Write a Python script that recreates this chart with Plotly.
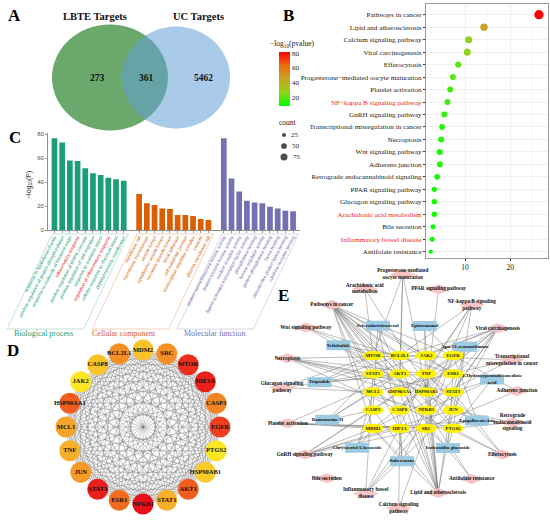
import itertools

import numpy as np
import plotly.graph_objects as go

W, H = 550, 521
SERIF = "Liberation Serif, Times New Roman, serif"
SANS = "Liberation Sans, Arial, sans-serif"
RED = "#ee1c25"

# ---------------- data ----------------
# A: Venn diagram
venn_titles = ["LBTE Targets", "UC Targets"]
venn_counts = [273, 361, 5462]  # LBTE only, shared, UC only

# B: KEGG enrichment bubble chart
kegg_terms = [
    "Pathways in cancer", "Lipid and atherosclerosis", "Calcium signaling pathway",
    "Viral carcinogenesis", "Efferocytosis", "Progesterone\u2212mediated oocyte maturation",
    "Platelet activation", "NF\u2212kappa B signaling pathway", "GnRH signaling pathway",
    "Transcriptional misregulation in cancer", "Necroptosis", "Wnt signaling pathway",
    "Adherens junction", "Retrograde endocannabinoid signaling", "PPAR signaling pathway",
    "Glucagon signaling pathway", "Arachidonic acid metabolism", "Bile secretion",
    "Inflammatory bowel disease", "Antifolate resistance",
]
kegg_x = [26.4, 14.2, 10.8, 10.5, 8.5, 7.3, 6.7, 6.1, 5.4, 4.9,
          4.7, 4.4, 4.4, 3.8, 3.2, 3.2, 3.2, 2.9, 2.7, 2.4]
kegg_count = [132, 81, 75, 75, 60, 55, 55, 55, 50, 50,
              55, 55, 55, 50, 43, 43, 43, 38, 38, 28]
kegg_logp = [82, 45, 28, 27, 20, 19, 17, 16, 14, 12,
             13, 12, 13, 11, 10, 10, 10, 9, 9, 8]
kegg_red = ["NF\u2212kappa B signaling pathway", "Arachidonic acid metabolism",
            "Inflammatory bowel disease"]
count_breaks = [25, 50, 75]
logp_breaks = [20, 40, 60, 80]

# C: GO enrichment bars
go_groups = ["Biological process", "Cellular component", "Molecular function"]
go_colors = ["#1b9e77", "#d95f02", "#7570b3"]
bp_terms = [
    "response to lipopolysaccharide", "positive regulation of protein phosphorylation",
    "response to molecule of bacterial origin", "inflammatory response",
    "positive regulation of MAPK cascade", "positive regulation of cell migration",
    "response to oxidative stress", "regulation of inflammatory response",
    "cellular response to chemical stress", "peptidyl-tyrosine modification",
]
bp_values = [76.4, 73.0, 58.0, 57.5, 51.5, 47.2, 45.8, 43.6, 42.2, 41.1]
cc_terms = [
    "membrane raft", "membrane microdomain", "vesicle lumen", "cytoplasmic vesicle lumen",
    "secretory granule lumen", "focal adhesion", "cell-substrate junction",
    "transcription regulator complex", "caveola", "plasma membrane raft",
]
cc_values = [30.0, 22.2, 20.8, 18.0, 17.5, 12.5, 12.5, 11.7, 9.2, 8.3]
mf_terms = [
    "protein serine/threonine kinase activity", "protein tyrosine kinase activity",
    "nuclear receptor activity", "ligand-activated transcription factor activity",
    "phosphatase binding", "kinase regulator activity", "protein phosphatase binding",
    "heme binding", "ubiquitin-like protein ligase binding", "cytokine receptor binding",
]
mf_values = [76.4, 43.0, 32.0, 24.4, 23.0, 22.2, 19.4, 18.0, 16.1, 15.6]
go_red = ["inflammatory response", "regulation of inflammatory response"]

# D: hub genes (clockwise from top) and their degree score
hub_genes = ["MDM2", "SRC", "MTOR", "HIF1A", "CASP3", "EGFR", "PTGS2", "HSP90AB1",
             "AKT1", "STAT1", "NFKB1", "ESR1", "STAT3", "JUN", "TNF", "MCL1",
             "HSP90AA1", "JAK2", "CASP8", "BCL2L1"]
hub_score = [12, 14.5, 18, 18.5, 15, 17.5, 10, 11.5, 16.5, 13, 19, 16, 18.5, 14,
             13, 13.5, 16.5, 10, 12, 14.5]

# E: compound-target-pathway network
net_gene_rows = [
    ["MTOR", "BCL2L1", "JAK2", "EGFR"],
    ["STAT1", "AKT1", "TNF", "ESR1"],
    ["MCL1", "HSP90AA1", "HSP90AB1", "STAT3"],
    ["CASP3", "CASP8", "NFKB1", "JUN"],
    ["MDM2", "HIF1A", "SRC", "PTGS2"],
]
net_compounds = [
    "Sclerodarisirosterol", "Epirosmanol", "Apo-13-zeaxanthinone",
    "4-Hydroxypentadecanedioic<br>acid", "Epigallocatechin", "Isofraxidin glucoside",
    "Suberenone", "Chrysoeriol 6-hexoside", "Ramonosine H", "Triptolide", "Trilobolide",
]
net_pathways = [
    "Progesterone-mediated<br>oocyte maturation", "PPAR signaling pathway",
    "NF-kappa B signaling<br>pathway", "Viral carcinogenesis",
    "Transcriptional<br>misregulation in cancer", "Adherens junction",
    "Retrograde<br>endocannabinoid<br>signaling", "Efferocytosis", "Antifolate resistance",
    "Lipid and atherosclerosis", "Calcium signaling<br>pathway",
    "Inflammatory bowel<br>disease", "Bile secretion", "GnRH signaling pathway",
    "Platelet activation", "Glucagon signaling<br>pathway", "Necroptosis",
    "Wnt signaling pathway", "Pathways in cancer", "Arachidonic acid<br>metabolism",
]
pathway_links = [
    ["AKT1", "HSP90AA1", "HSP90AB1", "MTOR"],
    ["HSP90AB1"],
    ["BCL2L1", "TNF", "NFKB1", "PTGS2", "CASP8"],
    ["JAK2", "STAT1", "STAT3", "NFKB1", "JUN", "SRC", "MDM2", "CASP3", "CASP8", "BCL2L1"],
    ["MDM2", "MCL1", "BCL2L1"],
    ["EGFR", "SRC"],
    ["PTGS2", "JUN"],
    ["PTGS2", "TNF", "STAT3", "MCL1"],
    ["NFKB1", "MTOR"],
    ["JAK2", "AKT1", "TNF", "HSP90AA1", "HSP90AB1", "STAT3", "CASP3", "CASP8",
     "NFKB1", "JUN", "SRC", "BCL2L1", "MDM2"],
    ["EGFR", "HIF1A"],
    ["TNF", "STAT1", "STAT3", "JUN", "NFKB1"],
    [],
    ["EGFR", "JUN", "SRC", "MDM2", "CASP3", "HIF1A"],
    ["AKT1", "SRC", "PTGS2", "MDM2", "HIF1A"],
    ["AKT1", "MTOR", "MCL1"],
    ["JAK2", "STAT1", "STAT3", "TNF", "CASP8", "HSP90AA1", "HSP90AB1"],
    ["JUN", "MTOR", "ESR1"],
    ["MTOR", "BCL2L1", "JAK2", "EGFR", "STAT1", "AKT1", "ESR1", "HSP90AA1",
     "HSP90AB1", "STAT3", "CASP3", "CASP8", "NFKB1", "JUN", "MDM2", "HIF1A", "PTGS2"],
    ["PTGS2", "MTOR"],
]
compound_links = [
    ["AKT1", "CASP3", "ESR1", "HIF1A"],
    ["EGFR", "JAK2", "SRC"],
    ["STAT3", "JUN", "HSP90AB1", "CASP8"],
    ["PTGS2", "STAT3", "NFKB1"],
    ["JUN", "EGFR", "MDM2", "SRC", "TNF"],
    ["PTGS2", "ESR1", "SRC"],
    ["HIF1A", "MDM2", "CASP8", "NFKB1"],
    ["MDM2", "CASP3", "MCL1"],
    ["MCL1", "AKT1", "CASP3", "STAT1"],
    ["MTOR", "STAT1", "BCL2L1", "TNF", "NFKB1"],
    ["BCL2L1", "AKT1", "MTOR", "STAT1"],
]

# ---------------- layout constants (pixel positions of panels) ----------------
venn_cy = 77.5
venn_green = dict(cx=110, rx=58, ry=53)
venn_blue = dict(cx=176, rx=54, ry=51)
d_center, d_radius = (143, 427), 77
e_center = (413, 392)
e_gene_step = (26.7, 18.2)
# polar placement (angle deg, radius px) of ring nodes in network E
compound_polar = [(118, 75), (80, 67), (41, 69), (9, 80), (-24, 70), (-58, 66),
                  (-99, 70), (-135, 79), (-162, 90), (174, 94), (148, 88)]
pathway_polar = [(95, 118), (76, 106), (56, 105), (37, 106), (18, 104), (0.5, 104),
                 (-17, 104), (-35, 109), (-56, 105), (-76, 104), (-97, 117),
                 (-115, 112), (-135, 122), (-150, 125), (-166, 129), (178, 131),
                 (165, 130), (149, 125), (133, 119), (115, 114)]


def polar(center, angle, radius):
    a = np.deg2rad(angle)
    return center[0] + radius * np.cos(a), center[1] - radius * np.sin(a)


def size_of(counts):
    return list(0.81 * np.sqrt(np.asarray(counts, dtype=float)))


def poly_trace(points, fill):
    xs, ys = [], []
    for px, py in points:
        xs += list(px) + [px[0], None]
        ys += list(py) + [py[0], None]
    return go.Scatter(x=xs, y=ys, mode="lines", fill="toself", fillcolor=fill,
                      line=dict(width=0, color=fill), hoverinfo="skip",
                      xaxis="x", yaxis="y")


fig = go.Figure()

# ---------------- A: Venn ----------------
fig.add_shape(type="circle", xref="x", yref="y", layer="below",
              x0=venn_green["cx"] - venn_green["rx"], x1=venn_green["cx"] + venn_green["rx"],
              y0=venn_cy - venn_green["ry"], y1=venn_cy + venn_green["ry"],
              fillcolor="#6aa86c", line=dict(width=0))
fig.add_shape(type="circle", xref="x", yref="y", layer="below",
              x0=venn_blue["cx"] - venn_blue["rx"], x1=venn_blue["cx"] + venn_blue["rx"],
              y0=venn_cy - venn_blue["ry"], y1=venn_cy + venn_blue["ry"],
              fillcolor="rgba(97,159,215,0.545)", line=dict(width=0))
for cx, title in zip([95, 198], venn_titles):
    fig.add_annotation(x=cx, y=16, xref="x", yref="y", text=f"<b>{title}</b>",
                       showarrow=False, font=dict(family=SERIF, size=10.5, color="#111"))
for cx, n in zip([97, 146, 203], venn_counts):
    fig.add_annotation(x=cx, y=venn_cy, xref="x", yref="y", text=f"<b>{n}</b>",
                       showarrow=False, font=dict(family=SERIF, size=9.5, color="#111"))

# ---------------- B: KEGG bubbles ----------------
kegg_idx = list(range(len(kegg_terms)))
kegg_ticks = [f'<span style="color:{RED}">{t}</span>' if t in kegg_red else t
              for t in kegg_terms]
green_red = [[0, "#00ff00"], [0.25, "#8fd51c"], [0.5, "#c9a421"],
             [0.75, "#ec6a13"], [1, "#ff0000"]]
fig.add_trace(go.Scatter(
    x=kegg_x, y=kegg_idx, mode="markers", xaxis="x2", yaxis="y2", cliponaxis=False,
    marker=dict(size=size_of(kegg_count), color=kegg_logp, colorscale=green_red,
                cmin=7.7, cmax=82, opacity=1, line=dict(width=0),
                colorbar=dict(x=279 / W, xanchor="left", y=1 - 52 / H, yanchor="top",
                              len=54, lenmode="pixels", thickness=11, outlinewidth=0,
                              tickvals=logp_breaks, ticks="", xpad=0, ypad=0,
                              tickfont=dict(family=SERIF, size=7, color="#222"))),
))
fig.add_annotation(x=268, y=44, xref="x", yref="y", xanchor="left",
                   text="\u2212log<sub>10</sub>(pvalue)", showarrow=False,
                   font=dict(family=SERIF, size=7.5, color="#222"))
fig.add_annotation(x=288, y=122, xref="x", yref="y", text="count", showarrow=False,
                   font=dict(family=SERIF, size=7.5, color="#222"))
fig.add_trace(go.Scatter(
    x=[284] * 3, y=[135, 146, 157], mode="markers+text", xaxis="x", yaxis="y",
    marker=dict(size=size_of(count_breaks), color="black", line=dict(width=0)),
    text=[f"  {c}" for c in count_breaks], textposition="middle right",
    textfont=dict(family=SERIF, size=7, color="#222"), hoverinfo="skip",
))

# ---------------- C: GO bars ----------------
go_terms = [bp_terms, cc_terms, mf_terms]
go_values = [bp_values, cc_values, mf_values]
tick_pos, tick_txt = [], []
for g, (terms, vals, col) in enumerate(zip(go_terms, go_values, go_colors)):
    slots = [g * 11 + i for i in range(len(terms))]
    fig.add_trace(go.Bar(x=slots, y=vals, width=0.74, marker=dict(color=col, line=dict(width=0)),
                         xaxis="x3", yaxis="y3"))
    tick_pos += slots
    tick_txt += [f'<span style="color:{RED if t in go_red else col}">{t}</span>' for t in terms]

# slanted frames around each group's labels
for g, col in enumerate(go_colors):
    x_left = 47.7 + (g * 11 - 0.3 + 0.88) * 7.72
    x_right = 47.7 + (g * 11 + 9.6 + 0.88) * 7.72
    shift = 45
    fig.add_shape(type="path", xref="x", yref="y", layer="below",
                  path=f"M {x_left},234 L {x_right},234 L {x_right - shift},329 "
                       f"L {x_left - shift},329 Z",
                  line=dict(color=col, width=0.6), opacity=0.45)
for cx, name, col in zip([43, 124, 215], go_groups, go_colors):
    fig.add_annotation(x=cx, y=333, xref="x", yref="y", text=name, showarrow=False,
                       font=dict(family=SERIF, size=8, color=col))
fig.add_annotation(x=29, y=185, xref="x", yref="y", text="\u2212log<sub>10</sub>(P)",
                   textangle=-90, showarrow=False, font=dict(family=SANS, size=7, color="#222"))

# ---------------- D: hub gene ring ----------------
d_angles = [90 - 18 * i for i in range(len(hub_genes))]
d_xy = [polar(d_center, a, d_radius) for a in d_angles]
ex, ey = [], []
for i, j in itertools.combinations(range(len(hub_genes)), 2):
    ex += [d_xy[i][0], d_xy[j][0], None]
    ey += [d_xy[i][1], d_xy[j][1], None]
fig.add_trace(go.Scatter(x=ex, y=ey, mode="lines", xaxis="x", yaxis="y",
                         line=dict(color="rgba(100,100,100,0.8)", width=0.45),
                         hoverinfo="skip"))
hub_scale = [[0, "#fde725"], [0.3, "#f9b72b"], [0.65, "#f2711f"], [1, "#e8101b"]]
fig.add_trace(go.Scatter(
    x=[p[0] for p in d_xy], y=[p[1] for p in d_xy], mode="markers+text",
    xaxis="x", yaxis="y", text=[f"<b>{g}</b>" for g in hub_genes],
    textposition="middle center", textfont=dict(family=SERIF, size=6.5, color="#111"),
    marker=dict(size=21, color=hub_score, colorscale=hub_scale, cmin=10, cmax=19,
                line=dict(width=0)),
    hoverinfo="skip",
))

# ---------------- E: compound-target-pathway network ----------------
gene_pos = {}
for r, row in enumerate(net_gene_rows):
    for c, gname in enumerate(row):
        gene_pos[gname] = (e_center[0] + (c - 1.5) * e_gene_step[0],
                           e_center[1] + (r - 2) * e_gene_step[1])
comp_pos = [polar(e_center, a, rad) for a, rad in compound_polar]
path_pos = [polar(e_center, a, rad) for a, rad in pathway_polar]

lx, ly = [], []
for src_pos, links in list(zip(path_pos, pathway_links)) + list(zip(comp_pos, compound_links)):
    for gname in links:
        lx += [src_pos[0], gene_pos[gname][0], None]
        ly += [src_pos[1], gene_pos[gname][1], None]
fig.add_trace(go.Scatter(x=lx, y=ly, mode="lines", xaxis="x", yaxis="y",
                         line=dict(color="rgba(105,105,105,0.8)", width=0.55),
                         hoverinfo="skip"))

t = np.linspace(0, 2 * np.pi, 28, endpoint=False)
fig.add_trace(poly_trace(
    [(np.array([x - 13, x, x + 13, x]), np.array([y, y - 5, y, y + 5])) for x, y in path_pos],
    "#f7c3c3"))
fig.add_trace(poly_trace(
    [(np.array([x - 12, x + 12, x + 12, x - 12]), np.array([y - 5, y - 5, y + 5, y + 5]))
     for x, y in comp_pos], "#9ccae2"))
fig.add_trace(poly_trace(
    [(x + 10.5 * np.cos(t), y + 4.8 * np.sin(t)) for x, y in gene_pos.values()],
    "#fff200"))

fig.add_trace(go.Scatter(
    x=[p[0] for p in gene_pos.values()], y=[p[1] for p in gene_pos.values()],
    mode="text", text=[f"<b>{g}</b>" for g in gene_pos], xaxis="x", yaxis="y",
    textfont=dict(family=SERIF, size=4.8, color="#111"), hoverinfo="skip"))
fig.add_trace(go.Scatter(
    x=[p[0] for p in comp_pos], y=[p[1] for p in comp_pos], mode="text",
    text=[f"<b>{c}</b>" for c in net_compounds], xaxis="x", yaxis="y",
    textfont=dict(family=SERIF, size=5, color="#111"), hoverinfo="skip"))
fig.add_trace(go.Scatter(
    x=[p[0] for p in path_pos], y=[p[1] for p in path_pos], mode="text",
    text=[f"<b>{p}</b>" for p in net_pathways], xaxis="x", yaxis="y",
    textfont=dict(family=SERIF, size=5.2, color="#111"), hoverinfo="skip"))

# ---------------- panel letters ----------------
for letter, (lx_, ly_) in zip("ABCDE", [(14, 15), (288, 15), (15, 137), (13, 350), (283, 295)]):
    fig.add_annotation(x=lx_, y=ly_, xref="x", yref="y", text=f"<b>{letter}</b>",
                       showarrow=False, font=dict(family=SERIF, size=17, color="#000"))

axis_off = dict(visible=False, fixedrange=True, showgrid=False, zeroline=False)
fig.update_layout(
    width=W, height=H, margin=dict(l=0, r=0, t=0, b=0, autoexpand=False),
    paper_bgcolor="white", plot_bgcolor="rgba(0,0,0,0)", showlegend=False,
    hovermode=False,
    xaxis=dict(domain=[0, 1], range=[0, W], **axis_off),
    yaxis=dict(domain=[0, 1], range=[H, 0], **axis_off),
    xaxis2=dict(domain=[425.7 / W, 548 / W], anchor="y2", range=[1.27, 28.4],
                tickvals=[10, 20], ticks="outside", ticklen=2, tickcolor="#333",
                tickfont=dict(family=SERIF, size=7.5, color="#222"),
                showgrid=True, gridcolor="#e6e6e6", gridwidth=0.6, zeroline=False,
                minor=dict(tickvals=[5, 15, 25], showgrid=True, gridcolor="#f0f0f0",
                           gridwidth=0.4),
                showline=True, mirror=True, linecolor="#555", linewidth=0.6),
    yaxis2=dict(domain=[1 - 258 / H, 1 - 4 / H], anchor="x2", range=[19.51, -0.86],
                tickvals=kegg_idx, ticktext=kegg_ticks, ticks="outside", ticklen=2,
                tickcolor="#333", tickfont=dict(family=SERIF, size=7.15, color="#222"),
                showgrid=True, gridcolor="#e6e6e6", gridwidth=0.6, zeroline=False,
                showline=True, mirror=True, linecolor="#555", linewidth=0.6),
    xaxis3=dict(domain=[47.7 / W, 300 / W], anchor="y3", range=[-0.88, 31.9],
                tickvals=tick_pos, ticktext=tick_txt, tickangle=-62, ticks="outside",
                ticklen=2, tickwidth=0.5, tickcolor="#333",
                tickfont=dict(family=SANS, size=4.6), showgrid=False, zeroline=False,
                showline=True, linecolor="#444", linewidth=0.6),
    yaxis3=dict(domain=[1 - 230 / H, 1 - 133.4 / H], anchor="x3", range=[0, 80.5],
                tickvals=[0, 20, 40, 60, 80], ticks="outside", ticklen=2, tickwidth=0.5,
                tickcolor="#333", tickfont=dict(family=SANS, size=6, color="#4d4d4d"),
                showgrid=False, zeroline=False, showline=True, linecolor="#444",
                linewidth=0.6),
)

# the page's default 8px body margin would shift the figure; remove it
fig.write_html("out.html", config={"displayModeBar": False, "staticPlot": True},
               post_script="document.body.style.margin = '0';")
